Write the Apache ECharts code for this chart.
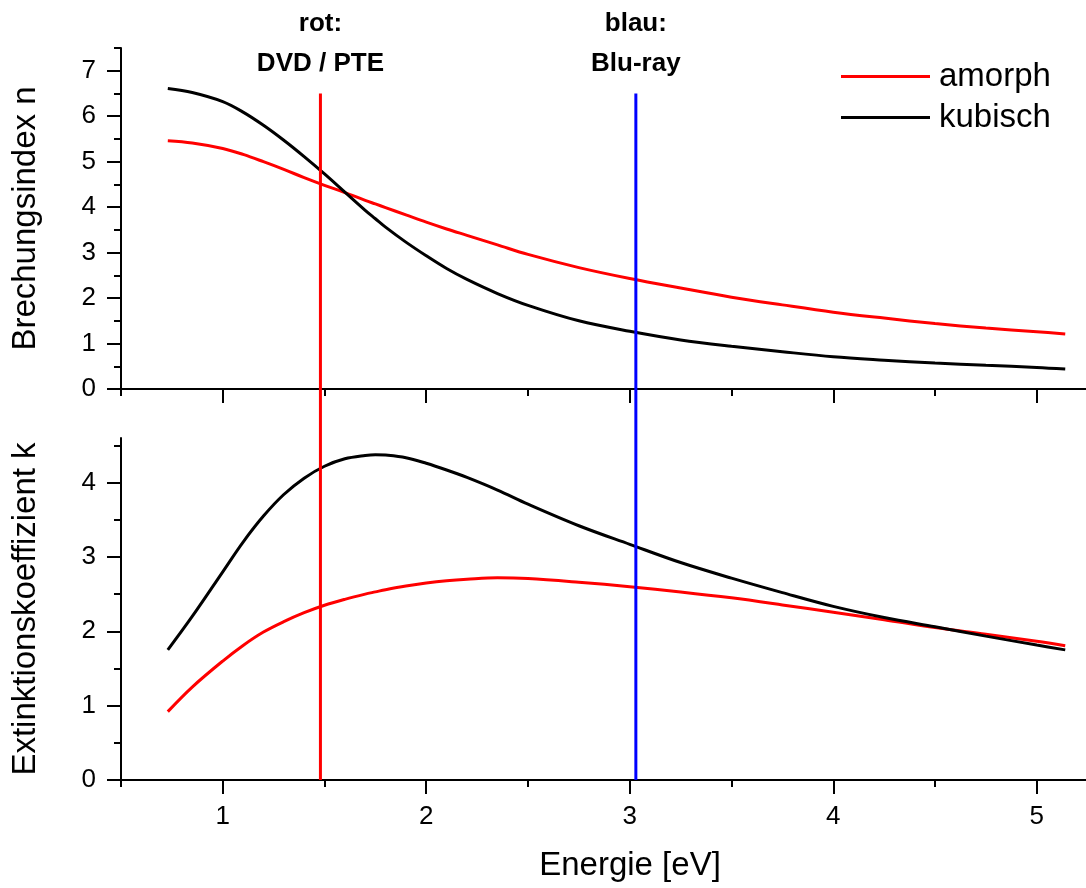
<!DOCTYPE html>
<html><head><meta charset="utf-8">
<script src="https://cdn.jsdelivr.net/npm/echarts@6/dist/echarts.min.js"></script>
<style>html,body{margin:0;padding:0;background:#fff}#c{width:1086px;height:888px}</style>
</head><body><div id="c"></div>
<script>
// ---- data ----
const energy   = [0.73, 0.85, 1.0, 1.1, 1.2, 1.3, 1.4, 1.5, 1.6, 1.7, 1.75, 1.8, 1.9, 2.0, 2.1, 2.2, 2.35, 2.5, 2.75, 3.0, 3.25, 3.5, 3.75, 4.0, 4.25, 4.5, 4.75, 5.0, 5.14];
const nAmorph  = [5.46, 5.41, 5.29, 5.16, 5.00, 4.83, 4.65, 4.48, 4.32, 4.15, 4.07, 3.99, 3.83, 3.67, 3.52, 3.38, 3.17, 2.96, 2.67, 2.43, 2.22, 2.02, 1.85, 1.69, 1.56, 1.44, 1.34, 1.26, 1.21];
const nKubisch = [6.61, 6.52, 6.32, 6.09, 5.80, 5.47, 5.11, 4.73, 4.33, 3.93, 3.745, 3.56, 3.23, 2.93, 2.65, 2.41, 2.10, 1.84, 1.50, 1.27, 1.08, 0.94, 0.82, 0.71, 0.635, 0.57, 0.52, 0.475, 0.44];
const kAmorph  = [0.92, 1.25, 1.60, 1.81, 1.99, 2.13, 2.25, 2.35, 2.43, 2.50, 2.53, 2.56, 2.61, 2.65, 2.68, 2.70, 2.72, 2.71, 2.66, 2.60, 2.53, 2.45, 2.355, 2.255, 2.155, 2.05, 1.96, 1.865, 1.805];
const kKubisch = [1.75, 2.20, 2.80, 3.20, 3.55, 3.84, 4.06, 4.22, 4.32, 4.365, 4.375, 4.37, 4.335, 4.26, 4.17, 4.07, 3.90, 3.71, 3.42, 3.17, 2.925, 2.715, 2.52, 2.335, 2.185, 2.06, 1.935, 1.815, 1.75];
const seriesNames = ['amorph', 'kubisch'];
const markerEnergy = [1.48, 3.03];
const markerLabels = ['rot:\nDVD / PTE', 'blau:\nBlu-ray'];
const markerTop = 6.5;
const xMajorTicks = [1, 2, 3, 4, 5];
const xMinorTicks = [0.5, 1.5, 2.5, 3.5, 4.5];
const nMajorTicks = [0, 1, 2, 3, 4, 5, 6, 7];
const nMinorTicks = [0.5, 1.5, 2.5, 3.5, 4.5, 5.5, 6.5, 7.5];
const kMajorTicks = [0, 1, 2, 3, 4];
const kMinorTicks = [0.5, 1.5, 2.5, 3.5, 4.5];
const xName = 'Energie [eV]';
const nName = 'Brechungsindex n';
const kName = 'Extinktionskoeffizient k';

// ---- layout ----
const FONT = 'Liberation Sans, Arial, sans-serif';
const L = 121, W = 965;
const PX_PER_E = 203.5;
const X_MIN = 0.5, X_MAX = X_MIN + W / PX_PER_E;
const T1 = 48, H1 = 341, N_MAX = 7.5;
const T2 = 438, H2 = 342, K_MAX = 4.6;
const nBottom = -((T2 + H2) - (T1 + H1)) / (H1 / N_MAX);

const colors = { amorph: '#ff0000', kubisch: '#000000' };
const markerColors = ['#ff0000', '#0000ff'];

function zip(xs, ys) { return xs.map((x, i) => [x, ys[i]]); }

const tickLabelStyle = { fontSize: 26, color: '#000', fontFamily: FONT };
const titleStyle = { fontSize: 33, color: '#000', fontFamily: FONT };

function majorX(grid, labels) {
  return {
    type: 'value', gridIndex: grid, min: X_MIN, max: X_MAX, position: 'bottom',
    axisLine: { show: true, onZero: false, lineStyle: { color: '#000', width: 2 } },
    axisTick: { show: true, inside: false, length: 14, lineStyle: { color: '#000', width: 2 }, customValues: xMajorTicks },
    axisLabel: labels ? Object.assign({ show: true, customValues: xMajorTicks, margin: 24 }, tickLabelStyle) : { show: false },
    splitLine: { show: false },
    name: labels ? xName : '', nameLocation: 'middle', nameGap: 69,
    nameTextStyle: Object.assign({ padding: [0, 0, 0, 53] }, titleStyle)
  };
}
function minorX(grid) {
  return {
    type: 'value', gridIndex: grid, min: X_MIN, max: X_MAX, position: 'bottom',
    axisLine: { show: false, onZero: false },
    axisTick: { show: true, inside: false, length: 7, lineStyle: { color: '#000', width: 2 }, customValues: xMinorTicks },
    axisLabel: { show: false }, splitLine: { show: false }
  };
}
function majorY(grid, max, ticks, name) {
  return {
    type: 'value', gridIndex: grid, min: 0, max: max, position: 'left',
    axisLine: { show: true, onZero: false, lineStyle: { color: '#000', width: 2 } },
    axisTick: { show: true, inside: false, length: 14, lineStyle: { color: '#000', width: 2 }, customValues: ticks },
    axisLabel: Object.assign({ show: true, customValues: ticks, margin: 25 }, tickLabelStyle),
    splitLine: { show: false },
    name: name, nameLocation: 'middle', nameGap: 79,
    nameTextStyle: titleStyle
  };
}
function minorY(grid, max, ticks) {
  return {
    type: 'value', gridIndex: grid, min: 0, max: max, position: 'left',
    axisLine: { show: false, onZero: false },
    axisTick: { show: true, inside: false, length: 7, lineStyle: { color: '#000', width: 2 }, customValues: ticks },
    axisLabel: { show: false }, splitLine: { show: false }
  };
}
function curve(name, xi, yi, ys) {
  return {
    type: 'line', name: name, xAxisIndex: xi, yAxisIndex: yi,
    data: zip(energy, ys), showSymbol: false, symbol: 'none', smooth: 0.35,
    lineStyle: { color: colors[name], width: 3 }, itemStyle: { color: colors[name] },
    z: name === 'kubisch' ? 3 : 2, animation: false
  };
}

const markerSeries = markerEnergy.map((e, i) => ({
  type: 'line', xAxisIndex: 4, yAxisIndex: 4, symbol: 'none', showSymbol: false,
  lineStyle: { color: markerColors[i], width: 3 }, itemStyle: { color: markerColors[i] },
  z: 4, animation: false, silent: true,
  data: [[e, nBottom], [e, markerTop]],
  markPoint: {
    symbol: 'circle', symbolSize: 0, silent: true, animation: false,
    data: [{ coord: [e, markerTop],
      label: { show: true, position: 'top', distance: 10, formatter: markerLabels[i],
        fontSize: 26, fontWeight: 'bold', color: '#000', fontFamily: FONT, lineHeight: 40, align: 'center' } }]
  }
}));

const chart = echarts.init(document.getElementById('c'), null, { renderer: 'canvas' });
chart.setOption({
  animation: false,
  backgroundColor: '#fff',
  textStyle: { fontFamily: FONT },
  grid: [
    { left: L, top: T1, width: W, height: H1 },
    { left: L, top: T2, width: W, height: H2 },
    { left: L, top: T1, width: W, height: T2 + H2 - T1 }
  ],
  xAxis: [majorX(0, false), minorX(0), majorX(1, true), minorX(1),
    { type: 'value', gridIndex: 2, min: X_MIN, max: X_MAX, show: false }],
  yAxis: [majorY(0, N_MAX, nMajorTicks, nName), minorY(0, N_MAX, nMinorTicks),
    majorY(1, K_MAX, kMajorTicks, kName), minorY(1, K_MAX, kMinorTicks),
    { type: 'value', gridIndex: 2, min: nBottom, max: N_MAX, show: false }],
  legend: {
    data: seriesNames, orient: 'vertical', left: 841, top: 60, padding: 0,
    icon: 'rect', itemWidth: 89, itemHeight: 3, itemGap: 8,
    textStyle: { fontSize: 33, color: '#000', fontFamily: FONT, padding: [0, 0, 0, 4] },
    selectedMode: false
  },
  series: [
    curve('amorph', 0, 0, nAmorph), curve('kubisch', 0, 0, nKubisch),
    curve('amorph', 2, 2, kAmorph), curve('kubisch', 2, 2, kKubisch)
  ].concat(markerSeries)
});
</script></body></html>
